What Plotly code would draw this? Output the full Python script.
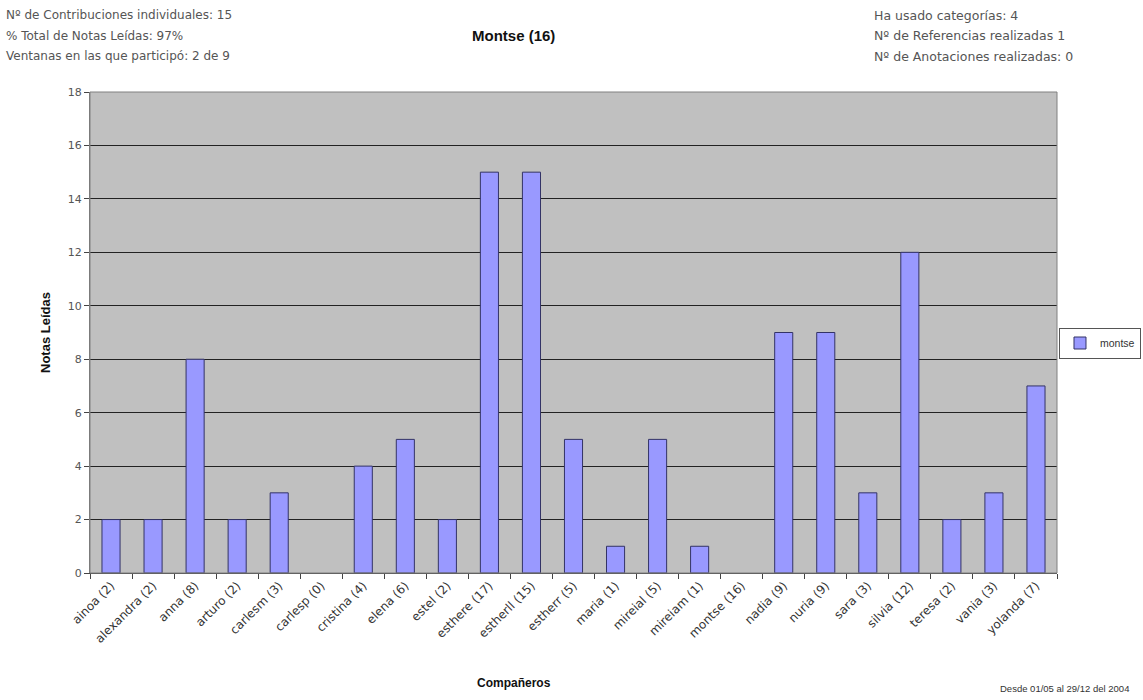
import plotly.graph_objects as go

# Compañeros y notas leídas por Montse
companeros = ["ainoa (2)", "alexandra (2)", "anna (8)", "arturo (2)", "carlesm (3)",
              "carlesp (0)", "cristina (4)", "elena (6)", "estel (2)", "esthere (17)",
              "estherll (15)", "estherr (5)", "maria (1)", "mireial (5)", "mireiam (1)",
              "montse (16)", "nadia (9)", "nuria (9)", "sara (3)", "silvia (12)",
              "teresa (2)", "vania (3)", "yolanda (7)"]
notas_leidas = [2, 2, 8, 2, 3, 0, 4, 5, 2, 15, 15, 5, 1, 5, 1, 0, 9, 9, 3, 12, 2, 3, 7]

info_izq = ["Nº de Contribuciones individuales: 15",
            "% Total de Notas Leídas: 97%",
            "Ventanas en las que participó: 2 de 9"]
info_der = ["Ha usado categorías: 4",
            "Nº de Referencias realizadas 1",
            "Nº de Anotaciones realizadas: 0"]

FONT = "Liberation Sans, Arial, sans-serif"
WIDE = "DejaVu Sans, Verdana, sans-serif"
TXT = "#333333"

# sin borde en las barras de valor cero
bordes = [0 if v == 0 else 1 for v in notas_leidas]

fig = go.Figure()
fig.add_trace(go.Bar(
    x=companeros, y=notas_leidas, name="montse",
    marker=dict(color="#9999ff", line=dict(color="#333366", width=bordes)),
))

fig.update_layout(
    width=1143, height=700,
    margin=dict(l=90, r=86, t=92, b=127),
    paper_bgcolor="white", plot_bgcolor="#c0c0c0",
    bargap=0.57,
    font=dict(family=FONT, size=11, color=TXT),
    showlegend=True,
    legend=dict(xref="container", yref="container", x=0.9265, y=0.51,
                xanchor="left", yanchor="middle",
                bordercolor="#555555", borderwidth=1, bgcolor="white",
                font=dict(size=10.5, color=TXT), itemwidth=30,
                tracegroupgap=0),
    xaxis=dict(
        type="category", tickangle=-45, ticks="outside", ticklen=5,
        tickson="boundaries", tickcolor="#444444",
        showline=True, linecolor="#444444", linewidth=1,
        showgrid=False, tickfont=dict(family=WIDE, size=12, color=TXT),
        automargin=False,
    ),
    yaxis=dict(
        range=[0, 18], dtick=2, ticks="outside", ticklen=5, tickcolor="#444444",
        showline=True, linecolor="#777777", linewidth=1,
        showgrid=True, gridcolor="#222222", gridwidth=1,
        zeroline=False, tickfont=dict(family=WIDE, size=11, color="#555555"),
        title=dict(text="<b>Notas Leídas</b>", standoff=14,
                   font=dict(size=13, color="#111111")),
        automargin=False,
    ),
)

# Marco del área de trazado
fig.add_shape(type="rect", xref="paper", yref="paper", x0=0, y0=0, x1=1, y1=1,
              line=dict(color="#808080", width=1), layer="above")

# Título
fig.add_annotation(text="<b>Montse (16)</b>", xref="paper", yref="paper",
                   x=0.438, y=1, yshift=57, yanchor="middle", showarrow=False,
                   font=dict(size=15, color="#111111"))

# Título del eje X
fig.add_annotation(text="<b>Compañeros</b>", xref="paper", yref="paper",
                   x=0.438, y=0, yshift=-110, yanchor="middle", showarrow=False,
                   font=dict(size=12, color="#111111"))

# Datos de participación
for i, t in enumerate(info_izq):
    fig.add_annotation(text=t, xref="paper", yref="paper", x=0, xshift=-86,
                       y=1, yshift=77 - i * 20.5, xanchor="left", yanchor="middle",
                       showarrow=False, font=dict(family=WIDE, size=12, color="#555555"))
for i, t in enumerate(info_der):
    fig.add_annotation(text=t, xref="paper", yref="paper", x=1, xshift=-185,
                       y=1, yshift=77 - i * 20.5, xanchor="left", yanchor="middle",
                       showarrow=False, font=dict(family=WIDE, size=12.5, color="#555555"))

fig.add_annotation(text="Desde 01/05 al 29/12 del 2004", xref="paper", yref="paper",
                   x=1, xshift=74, y=0, yshift=-115, xanchor="right", yanchor="middle",
                   showarrow=False, font=dict(size=9.5, color="#333333"))

fig.write_html("out.html")
